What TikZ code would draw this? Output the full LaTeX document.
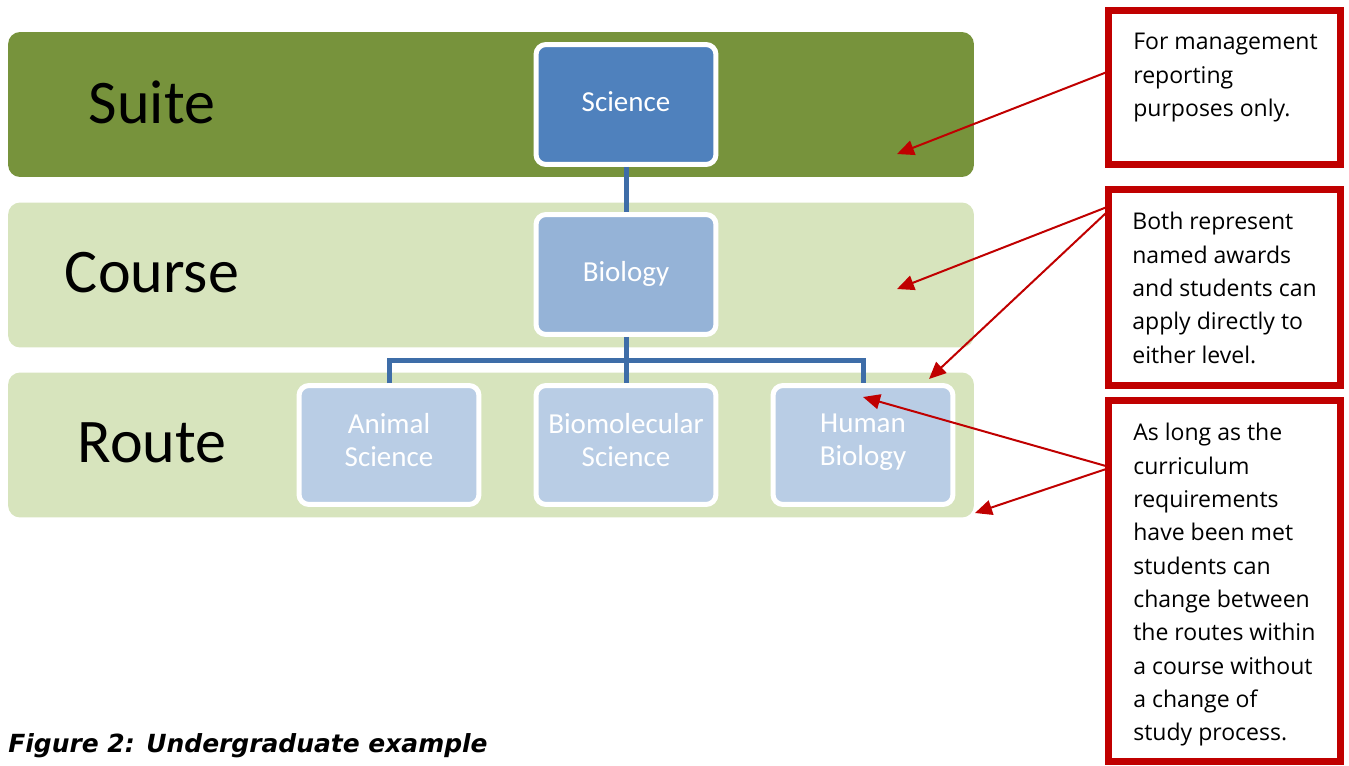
\documentclass[tikz,border=0pt]{standalone}
\usepackage{fontspec}
\setmainfont{Carlito}
\newfontfamily\notefont{Open Sans}
\newfontfamily\captionfont{DejaVu Sans}
\usetikzlibrary{arrows.meta,positioning,calc}
\definecolor{suitegreen}{HTML}{77933C}
\definecolor{lightgreen}{HTML}{D7E4BD}
\definecolor{scienceblue}{HTML}{4F81BD}
\definecolor{biologyblue}{HTML}{95B3D7}
\definecolor{routeblue}{HTML}{B9CDE5}
\definecolor{linkblue}{HTML}{3E6DA8}
\definecolor{notered}{HTML}{C00000}
\begin{document}
\begin{tikzpicture}[x=0.02cm,y=-0.02cm,
  band/.style={rounded corners=0.24cm,minimum width=19.32cm,minimum height=2.9cm,inner sep=0},
  level/.style={font=\fontsize{35.3pt}{40pt}\selectfont},
  unit/.style={draw=white,line width=0.1cm,rounded corners=0.2cm,minimum width=3.6cm,
    minimum height=2.4cm,text=white,align=center,font=\fontsize{16.5pt}{18.8pt}\selectfont,
    execute at begin node=\strut,execute at end node=\strut},
  link/.style={draw=linkblue,line width=0.1cm},
  note/.style={draw=notered,line width=0.14cm,minimum width=4.64cm,inner sep=0},
  notetext/.style={anchor=north west,align=left,inner sep=0,font=\notefont\fontsize{13.1pt}{18.96pt}\selectfont},
  pointer/.style={draw=notered,line width=0.04cm,-{Triangle[length=0.34cm,width=0.3cm]}}]
\useasboundingbox (0,0) rectangle (1349,765);

% levels
\node[band,fill=suitegreen] (suiteband) at (491,104.5) {};
\node[band,fill=lightgreen] (courseband) at (491,275) {};
\node[band,fill=lightgreen] (routeband) at (491,445) {};
\node[level] (suite) at (152,102) {Suite};
\node[level] (course) at (152,273) {Course};
\node[level] (route) at (152,443) {Route};

% hierarchy
\node[unit,fill=scienceblue] (science) at (626,104.5) {Science};
\node[unit,fill=biologyblue] (biology) at (626,274.5) {Biology};
\node[unit,fill=routeblue,minimum height=2.38cm] (animal) at (389,445) {Animal\\Science};
\node[unit,fill=routeblue,minimum height=2.38cm] (biomol) at (626,445) {Biomolecular\\Science};
\node[unit,fill=routeblue,minimum height=2.38cm] (human) at (863,445) {Human\\Biology};
\draw[link] (science.south) -- (biology.north);
\draw[link] (biology.south) -- ++(0,24) coordinate (fork);
\draw[link] (animal.north) |- (fork) -| (human.north);
\draw[link] (fork) -- (biomol.north);

% notes
\node[note,minimum height=3.08cm] (box1) at (1224.5,87.5) {};
\node[note,minimum height=3.92cm] (box2) at (1224.5,287.5) {};
\node[note,minimum height=7.22cm] (box3) at (1224.5,581) {};
\node[notetext] (text1) at (1133,33) {For management\\reporting\\purposes only.};
\node[notetext] (text2) at (1132,212) {Both represent\\named awards\\and students can\\apply directly to\\either level.};
\node[notetext] (text3) at (1133,423) {As long as the\\curriculum\\requirements\\have been met\\students can\\change between\\the routes within\\a course without\\a change of\\study process.};

% pointers
\coordinate (suitetip) at (897,154);
\coordinate (coursetip) at (897,289);
\coordinate (routetip) at (929,379);
\coordinate (humantip) at (863,397);
\coordinate (endtip) at (975,513);
\draw[pointer] ($(box1.north west)+(2,65)$) -- (suitetip);
\draw[pointer] ($(box2.north west)+(2,21)$) -- (coursetip);
\draw[pointer] ($(box2.north west)+(2,26)$) -- (routetip);
\draw[pointer] ($(box3.north west)+(1,69)$) -- (humantip);
\draw[pointer] ($(box3.north west)+(1,72)$) -- (endtip);

\node[anchor=base west,inner sep=0,font=\captionfont\fontsize{14.2pt}{17pt}\selectfont\bfseries\itshape] (caption) at (8,752) {Figure 2: Undergraduate example};
\end{tikzpicture}
\end{document}
